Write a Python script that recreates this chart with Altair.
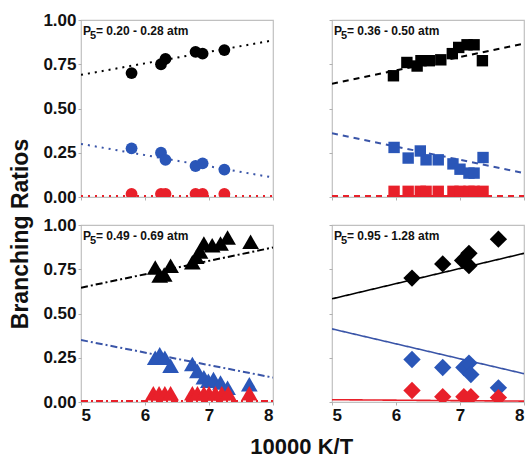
import altair as alt
import pandas as pd

# Branching ratios vs 10000 K/T for four pressure ranges.
# Series: C (black), B (blue), R (red)

# Panel 1: P5 = 0.20 - 0.28 atm
p1_x = [5.79, 6.25, 6.32, 6.79, 6.90, 7.24]
p1_black = [0.70, 0.75, 0.78, 0.82, 0.81, 0.83]
p1_blue = [0.275, 0.25, 0.21, 0.175, 0.19, 0.155]
p1_red = [0.018, 0.018, 0.018, 0.018, 0.018, 0.018]
p1_fit_black = [0.69, 0.885]
p1_fit_blue = [0.30, 0.11]
p1_fit_red = [0.005, 0.005]

# Panel 2: P5 = 0.36 - 0.50 atm
p2_x = [5.97, 6.19, 6.38, 6.47, 6.66, 6.89, 7.00, 7.14, 7.22, 7.36]
p2_black_x = [5.96, 6.17, 6.33, 6.39, 6.52, 6.70, 6.88, 6.98, 7.11, 7.22, 7.35]
p2_black = [0.685, 0.76, 0.74, 0.77, 0.77, 0.775, 0.81, 0.845, 0.86, 0.86, 0.77]
p2_blue = [0.28, 0.22, 0.26, 0.21, 0.21, 0.187, 0.157, 0.135, 0.135, 0.223]
p2_red = [0.032, 0.032, 0.032, 0.032, 0.032, 0.032, 0.032, 0.032, 0.032, 0.032]
p2_fit_black = [0.64, 0.867]
p2_fit_blue = [0.36, 0.135]
p2_fit_red = [0.005, 0.005]

# Panel 3: P5 = 0.49 - 0.69 atm
p3_black_x = [6.16, 6.23, 6.30, 6.40, 6.74, 6.80, 6.86, 6.92, 7.05, 7.18, 7.29, 7.65]
p3_black = [0.76, 0.715, 0.72, 0.77, 0.79, 0.82, 0.85, 0.895, 0.885, 0.895, 0.93, 0.905]
p3_blue_x = [6.16, 6.23, 6.31, 6.40, 6.74, 6.82, 6.92, 6.99, 7.07, 7.18, 7.29, 7.63]
p3_blue = [0.25, 0.27, 0.25, 0.205, 0.215, 0.175, 0.14, 0.12, 0.13, 0.11, 0.08, 0.10]
p3_red_x = [6.13, 6.22, 6.31, 6.40, 6.74, 6.82, 6.92, 7.00, 7.10, 7.20, 7.30, 7.63]
p3_red = [0.05, 0.05, 0.05, 0.05, 0.05, 0.05, 0.05, 0.05, 0.05, 0.05, 0.05, 0.05]
p3_fit_black = [0.646, 0.873]
p3_fit_blue = [0.35, 0.138]
p3_fit_red = [0.005, 0.005]

# Panel 4: P5 = 0.95 - 1.28 atm
p4_black_x = [6.25, 6.73, 7.04, 7.14, 7.14, 7.60]
p4_black = [0.70, 0.78, 0.80, 0.84, 0.77, 0.92]
p4_blue_x = [6.25, 6.73, 7.06, 7.14, 7.17, 7.60]
p4_blue = [0.24, 0.195, 0.195, 0.22, 0.155, 0.08]
p4_red_x = [6.25, 6.73, 7.06, 7.17, 7.60]
p4_red = [0.065, 0.03, 0.03, 0.03, 0.025]
p4_fit_black = [0.583, 0.84]
p4_fit_blue = [0.413, 0.16]
p4_fit_red = [0.013, 0.005]

fit_x = [5, 8]
x_ticks = [5, 6, 7, 8]
y_ticks = [0, 0.25, 0.5, 0.75, 1.0]

series = ["C", "B", "R"]
point_colors = ["#000000", "#2a56b8", "#e8202a"]
line_colors = ["#000000", "#3a55a8", "#e8202a"]

FONT = "Liberation Sans"
W, H = 192, 177


def points_df(xs, ys):
    rows = []
    for name, (xv, yv) in zip(series, zip(xs, ys)):
        rows += [{"x": a, "y": b, "s": name} for a, b in zip(xv, yv)]
    return pd.DataFrame(rows)


def fits_df(fits):
    rows = []
    for name, yv in zip(series, fits):
        rows += [{"x": a, "y": b, "s": name} for a, b in zip(fit_x, yv)]
    return pd.DataFrame(rows)


def panel(pts, fits, shape, size, dash, width, lo, hi, left, bottom):
    xenc = alt.X("x:Q", scale=alt.Scale(domain=[5, 8], nice=False),
                 axis=alt.Axis(values=x_ticks, labels=bottom, title=None,
                               format="d", domain=False, grid=False,
                               tickSize=3, tickColor="#b0b0b0",
                               labelFont=FONT, labelFontSize=17,
                               labelFontWeight="bold", labelColor="#111",
                               labelPadding=2))
    yenc = alt.Y("y:Q", scale=alt.Scale(domain=[0, 1], nice=False),
                 axis=alt.Axis(values=y_ticks, labels=left, title=None,
                               format=".2f", domain=False, grid=False,
                               tickSize=3, tickColor="#b0b0b0",
                               labelFont=FONT, labelFontSize=17,
                               labelFontWeight="bold", labelColor="#111",
                               labelPadding=2))
    lines = alt.Chart(fits_df(fits)).mark_line(
        strokeWidth=width, strokeDash=dash, clip=True
    ).encode(
        x=xenc, y=yenc, detail="s:N",
        color=alt.Color("s:N", scale=alt.Scale(domain=series, range=line_colors), legend=None),
    )
    marks = alt.Chart(pts).mark_point(
        shape=shape, filled=True, size=size, opacity=1, clip=True
    ).encode(
        x="x:Q", y="y:Q",
        color=alt.Color("s:N", scale=alt.Scale(domain=series, range=point_colors), legend=None),
    )
    p_txt = alt.Chart().mark_text(
        text="P", align="left", baseline="alphabetic", font=FONT,
        fontSize=12, fontWeight="bold", color="#111"
    ).encode(x=alt.value(2), y=alt.value(15))
    sub_txt = alt.Chart().mark_text(
        text="5", align="left", baseline="alphabetic", font=FONT,
        fontSize=11, fontWeight="bold", color="#111"
    ).encode(x=alt.value(9), y=alt.value(19))
    rest_txt = alt.Chart().mark_text(
        text=f"= {lo} - {hi} atm", align="left", baseline="alphabetic",
        font=FONT, fontSize=12, fontWeight="bold", color="#111"
    ).encode(x=alt.value(15), y=alt.value(15))
    return alt.layer(lines, marks, p_txt, sub_txt, rest_txt).resolve_scale(
        color="independent"
    ).properties(width=W, height=H)


c1 = panel(points_df([p1_x, p1_x, p1_x], [p1_black, p1_blue, p1_red]),
           [p1_fit_black, p1_fit_blue, p1_fit_red],
           "circle", 140, [2, 5], 2, "0.20", "0.28", True, False)
c2 = panel(points_df([p2_black_x, p2_x, p2_x], [p2_black, p2_blue, p2_red]),
           [p2_fit_black, p2_fit_blue, p2_fit_red],
           "square", 130, [6, 5], 2, "0.36", "0.50", False, False)
c3 = panel(points_df([p3_black_x, p3_blue_x, p3_red_x], [p3_black, p3_blue, p3_red]),
           [p3_fit_black, p3_fit_blue, p3_fit_red],
           "triangle-up", 280, [7, 3, 2, 3], 2, "0.49", "0.69", True, True)
c4 = panel(points_df([p4_black_x, p4_blue_x, p4_red_x], [p4_black, p4_blue, p4_red]),
           [p4_fit_black, p4_fit_blue, p4_fit_red],
           "diamond", 300, [1, 0], 1.6, "0.95", "1.28", False, True)

grid = alt.vconcat(
    alt.hconcat(c1, c2, spacing=52),
    alt.hconcat(c3, c4, spacing=52),
    spacing=9,
).properties(
    title=alt.TitleParams("10000 K/T", orient="bottom", anchor="middle",
                          font=FONT, fontSize=22, fontWeight="bold",
                          color="#111", offset=13, dx=18)
)

chart = alt.vconcat(grid).properties(
    title=alt.TitleParams("Branching Ratios", orient="left", anchor="middle",
                          font=FONT, fontSize=23, fontWeight="bold",
                          color="#111", offset=9),
    padding={"left": 10, "top": 10, "right": 5, "bottom": 5},
).configure_view(
    stroke="#c0c0c0", strokeWidth=1.2
)

chart.save("out.html", embed_options={"renderer": "svg", "actions": False})
